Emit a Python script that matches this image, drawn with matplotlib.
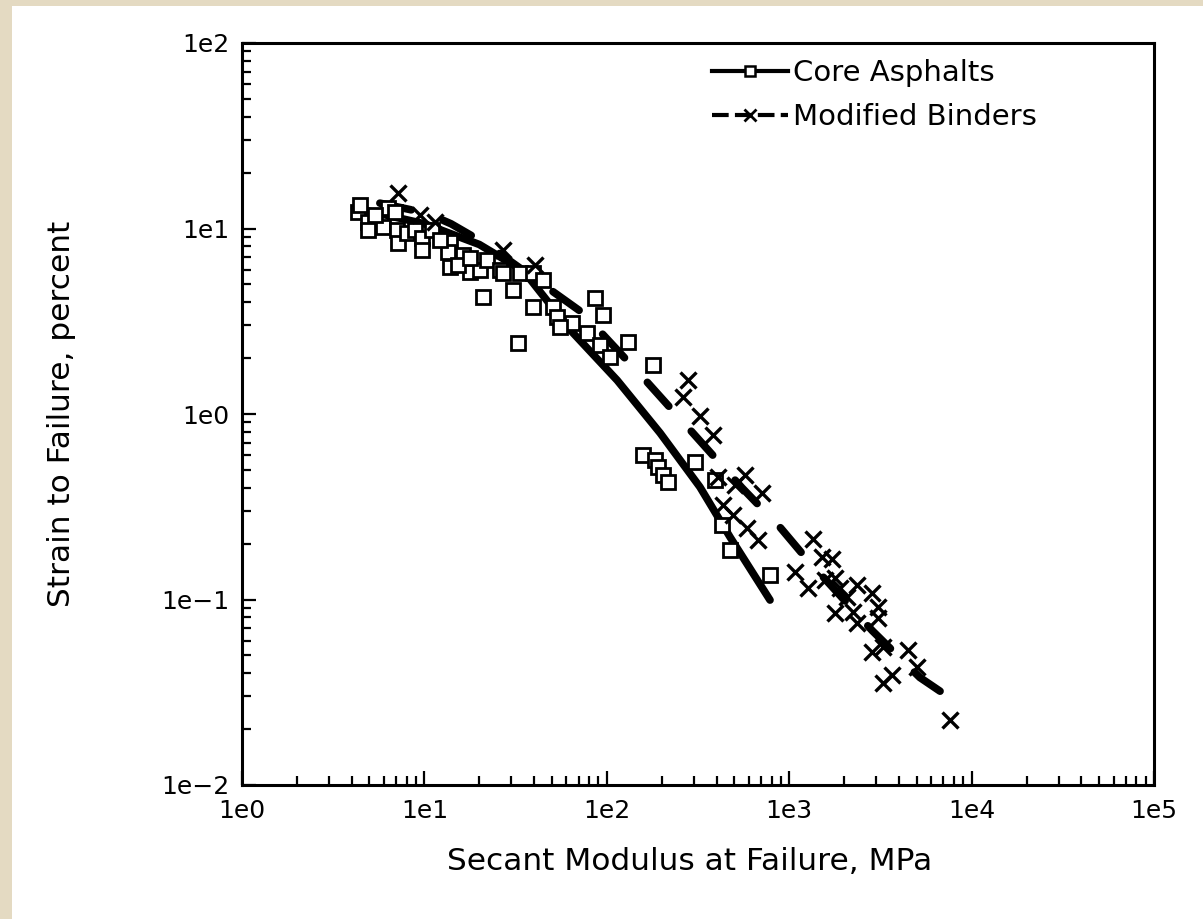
import matplotlib
matplotlib.use("Agg")
import matplotlib.pyplot as plt
from matplotlib.lines import Line2D
from matplotlib.patches import Rectangle
from matplotlib.legend_handler import HandlerLine2D
from matplotlib.ticker import LogLocator, NullFormatter, FixedLocator, FixedFormatter

plt.rcParams['font.family'] = ['DejaVu Sans']

# Core asphalts: secant modulus (MPa) and strain to failure (percent)
core_modulus = [4.33, 4.44, 4.91, 4.91, 6.31, 5.93, 7.08, 7.17, 8.03, 8.88, 9.70, 9.70,
                11.0, 13.8, 13.5, 13.8, 16.3, 17.8, 15.3, 20.2, 22.0, 21.0, 26.0, 27.0,
                30.6, 32.6, 33.4, 39.4, 44.7, 39.4, 50.7, 53.3, 64.4, 55.4, 86.1, 95.3,
                131, 77.9, 91.8, 104, 179, 158, 184, 191, 203, 217, 305, 392, 428, 474,
                785, 5.36, 6.9, 12.2, 17.8]
core_strain = [12.3, 13.4, 10.8, 9.8, 12.9, 10.2, 9.8, 8.35, 9.46, 9.8, 8.89, 7.66,
               9.8, 8.46, 7.47, 6.20, 7.2, 5.83, 6.36, 5.97, 6.76, 4.27, 5.97, 5.75,
               4.66, 2.41, 5.75, 5.75, 5.28, 3.78, 3.78, 3.33, 3.09, 2.94, 4.22, 3.42,
               2.44, 2.73, 2.35, 2.03, 1.84, 0.601, 0.565, 0.518, 0.469, 0.430, 0.551,
               0.441, 0.252, 0.185, 0.136, 11.8, 12.3, 8.67, 6.93]

# Modified binders: secant modulus (MPa) and strain to failure (percent)
mod_modulus = [7.17, 27.0, 9.46, 11.4, 40.4,
               279, 262, 324, 382, 407, 573, 505, 709, 434, 492, 587, 674,
               1349, 1076, 1513, 1718, 1268, 1571, 1783, 1898, 2354, 2844, 3069,
               2075, 1783, 2239, 2354, 3069, 2844, 3268, 4480, 5020, 3661, 3268, 7620]
mod_strain = [15.5, 7.66, 11.8, 10.8, 6.36,
              1.52, 1.24, 0.975, 0.771, 0.457, 0.469, 0.414, 0.375, 0.323, 0.286,
              0.243, 0.209,
              0.212, 0.141, 0.169, 0.165, 0.115, 0.127, 0.131, 0.115, 0.120, 0.108,
              0.0912, 0.103, 0.0846, 0.0857, 0.0747, 0.0795, 0.0521, 0.0555, 0.0534,
              0.0433, 0.0392, 0.0355, 0.0224]

# Fitted trend curves
core_fit_modulus = [4.3, 10, 20, 35, 63, 114, 196, 324, 474, 785]
core_fit_strain = [12.8, 10.6, 8.2, 5.9, 2.84, 1.52, 0.79, 0.404, 0.217, 0.0993]
mod_fit_modulus = [5.7, 10.3, 14, 22, 41, 74, 166, 293, 551, 891, 1250, 2850, 5200, 7800]
mod_fit_strain = [13.7, 12.1, 10.6, 8.2, 5.3, 3.5, 1.49, 0.80, 0.40, 0.245, 0.165, 0.068,
                  0.038, 0.029]

x_tick_values = [1e0, 1e1, 1e2, 1e3, 1e4, 1e5]
x_tick_labels = ['1e0', '1e1', '1e2', '1e3', '1e4', '1e5']
y_tick_values = [1e-2, 1e-1, 1e0, 1e1, 1e2]
y_tick_labels = ['1e\u22122', '1e\u22121', '1e0', '1e1', '1e2']

series_labels = ['Core Asphalts', 'Modified Binders']


class OffsetMarkerHandler(HandlerLine2D):
    """Legend line with its single marker placed left of centre."""

    def __init__(self, frac=0.3, **kw):
        super().__init__(numpoints=1, **kw)
        self.frac = frac

    def get_xdata(self, legend, xdescent, ydescent, width, height, fontsize):
        xdata = [-xdescent, -xdescent + width]
        xmark = [-xdescent + self.frac * width]
        return xdata, xmark


W, H = 1203, 919
fig = plt.figure(figsize=(W / 100, H / 100), dpi=100)
fig.patch.set_facecolor('white')

# beige paper edge along left and top
beige = '#e4dac2'
fig.patches.append(Rectangle((0, 0), 12 / W, 1, transform=fig.transFigure,
                             facecolor=beige, edgecolor='none', zorder=0))
fig.patches.append(Rectangle((0, 1 - 6 / H), 1, 6 / H, transform=fig.transFigure,
                             facecolor=beige, edgecolor='none', zorder=0))

ax = fig.add_axes([242 / W, 1 - 785 / H, (1154 - 242) / W, (785 - 43) / H])
ax.set_xscale('log')
ax.set_yscale('log')
ax.set_xlim(1e0, 1e5)
ax.set_ylim(1e-2, 1e2)

ax.plot(core_fit_modulus, core_fit_strain, color='black', lw=5.5,
        solid_capstyle='round', zorder=2)
ax.plot(mod_fit_modulus, mod_fit_strain, color='black', lw=5.5,
        dashes=(4.2, 4.4), dash_capstyle='round', zorder=2)

ax.plot(core_modulus, core_strain, ls='none', marker='s', ms=9.5,
        mfc='white', mec='black', mew=2.0, zorder=3)
ax.plot(mod_modulus, mod_strain, ls='none', marker='x', ms=11,
        mec='black', mew=2.4, zorder=4)

ax.xaxis.set_major_locator(FixedLocator(x_tick_values))
ax.xaxis.set_major_formatter(FixedFormatter(x_tick_labels))
ax.yaxis.set_major_locator(FixedLocator(y_tick_values))
ax.yaxis.set_major_formatter(FixedFormatter(y_tick_labels))
ax.xaxis.set_minor_locator(LogLocator(base=10, subs=range(2, 10)))
ax.yaxis.set_minor_locator(LogLocator(base=10, subs=range(2, 10)))
ax.xaxis.set_minor_formatter(NullFormatter())
ax.yaxis.set_minor_formatter(NullFormatter())

ax.tick_params(which='both', direction='in', top=False, right=False,
               width=1.6, labelsize=18, colors='black')
ax.tick_params(which='major', length=10, pad=10)
ax.tick_params(which='minor', length=6.5)
ax.tick_params(axis='y', which='major', pad=9)
for sp in ax.spines.values():
    sp.set_linewidth(2.2)

handles = [
    Line2D([], [], color='black', lw=3, marker='s', ms=7, mfc='white', mec='black', mew=1.8),
    Line2D([], [], color='black', lw=3, marker='x', ms=8, mec='black', mew=2.0,
           dashes=(4, 1.5)),
]
ax.legend(handles, series_labels, loc='upper left', bbox_to_anchor=(0.515, 0.978),
          frameon=False, fontsize=21, handlelength=2.6, handletextpad=0.2,
          labelspacing=0.55, borderpad=0, borderaxespad=0,
          handler_map={h: OffsetMarkerHandler(frac=0.32) for h in handles})

fig.text(690 / W, 1 - 862 / H, 'Secant Modulus at Failure, MPa',
         ha='center', va='center', fontsize=22.5)
fig.text(62 / W, 1 - 414 / H, 'Strain to Failure, percent', rotation=90,
         ha='center', va='center', fontsize=22.5)

fig.savefig('out.png', dpi=100, facecolor=fig.get_facecolor())
